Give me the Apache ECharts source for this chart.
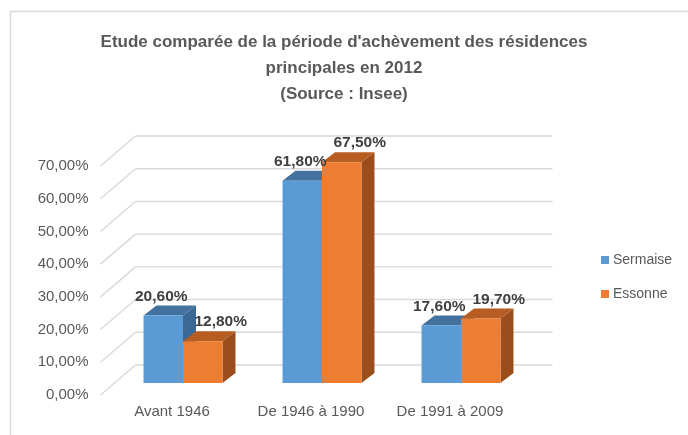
<!DOCTYPE html>
<html>
<head>
<meta charset="utf-8">
<script src="https://cdn.jsdelivr.net/npm/echarts@6/dist/echarts.min.js"></script>
<style>
  html, body { margin: 0; padding: 0; background: #fff; }
  #chart { width: 688px; height: 435px; }
</style>
</head>
<body>
<div id="chart"></div>
<script>
const categories = ["Avant 1946", "De 1946 à 1990", "De 1991 à 2009"];
const sermaise = [20.6, 61.8, 17.6];
const essonne = [12.8, 67.5, 19.7];
const yTicks = [0, 10, 20, 30, 40, 50, 60, 70];

const FONT = '"Liberation Sans", Arial, sans-serif';
const pct = (v) => v.toFixed(2).replace(".", ",") + "%";

// depth offsets relative to the plane where the bars stand
const BACK = [22, -18];
const FRONT = [-13, 12];
const BAR_DEPTH = [13, -10];

function bar3d(side, labelDx, colors) {
  return function (params, api) {
    const cat = api.value(0);
    const v = api.value(1);
    const base = api.coord([cat, 0]);
    const tip = api.coord([cat, v]);
    const w = api.size([1, 0])[0] * 0.284;
    const x0 = side < 0 ? base[0] - w : base[0];
    const x1 = x0 + w;
    const y0 = base[1], y1 = tip[1];
    const [dx, dy] = BAR_DEPTH;
    return {
      type: "group",
      children: [
        { type: "polygon", shape: { points: [[x1, y0], [x1 + dx, y0 + dy], [x1 + dx, y1 + dy], [x1, y1]] }, style: { fill: colors.side } },
        { type: "polygon", shape: { points: [[x0, y1], [x0 + dx, y1 + dy], [x1 + dx, y1 + dy], [x1, y1]] }, style: { fill: colors.top } },
        { type: "rect", shape: { x: x0, y: y1, width: w, height: y0 - y1 }, style: { fill: colors.front } },
        {
          type: "text", z2: 100,
          x: (x0 + x1) / 2 + labelDx, y: y1 - 19,
          style: { text: pct(v), align: "center", verticalAlign: "middle", font: "bold 15.5px " + FONT, fill: "#404040" }
        }
      ]
    };
  };
}

function wall(params, api) {
  const t = api.value(1);
  const cs = params.coordSys;
  const y = api.coord([0, t])[1];
  const bx = cs.x + BACK[0], by = y + BACK[1];
  const line = { stroke: "#d9d9d9", lineWidth: 1.4 };
  return {
    type: "group",
    children: [
      { type: "line", shape: { x1: bx, y1: by, x2: cs.x + cs.width + BACK[0], y2: by }, style: line },
      { type: "line", shape: { x1: bx, y1: by, x2: cs.x + FRONT[0], y2: y + FRONT[1] }, style: line }
    ]
  };
}

const chart = echarts.init(document.getElementById("chart"));
chart.setOption({
  backgroundColor: "#fff",
  animation: false,
  graphic: [{
    type: "rect", silent: true,
    shape: { x: 10.5, y: 11.5, width: 700, height: 500 },
    style: { fill: "none", stroke: "#d9d9d9", lineWidth: 1.5 }
  }],
  title: {
    text: "Etude comparée de la période d'achèvement des résidences\nprincipales en 2012\n(Source : Insee)",
    left: "center",
    top: 29,
    padding: 0,
    textStyle: { fontFamily: FONT, fontSize: 17, fontWeight: "bold", color: "#595959", lineHeight: 26 }
  },
  legend: {
    data: ["Sermaise", "Essonne"],
    orient: "vertical",
    left: 601,
    top: 253,
    padding: 0,
    icon: "rect",
    itemWidth: 8,
    itemHeight: 8,
    itemGap: 20,
    textStyle: { fontFamily: FONT, fontSize: 14, color: "#595959", padding: [0, 0, 0, -1] }
  },
  grid: [
    { left: 113.5, width: 417, top: 154, height: 229 },
    { left: 102.5, width: 417, top: 166, height: 229 }
  ],
  xAxis: [
    { gridIndex: 0, type: "category", data: categories, show: false },
    {
      gridIndex: 1, type: "category", data: categories,
      axisLine: { show: false }, axisTick: { show: false },
      axisLabel: { margin: 9, fontFamily: FONT, fontSize: 15, color: "#595959" }
    }
  ],
  yAxis: [
    { gridIndex: 0, type: "value", min: 0, max: 70, interval: 10, show: false },
    {
      gridIndex: 1, type: "value", min: 0, max: 70, interval: 10,
      axisLine: { show: false }, axisTick: { show: false }, splitLine: { show: false },
      axisLabel: { margin: 14, fontFamily: FONT, fontSize: 15, color: "#595959", formatter: pct }
    }
  ],
  series: [
    {
      type: "custom", name: "wall", z: 1, silent: true,
      xAxisIndex: 0, yAxisIndex: 0,
      renderItem: wall,
      data: yTicks.map((t) => [0, t])
    },
    {
      type: "custom", name: "Sermaise", z: 2,
      xAxisIndex: 0, yAxisIndex: 0,
      itemStyle: { color: "#5b9bd5" },
      renderItem: bar3d(-1, -2, { front: "#5b9bd5", top: "#44729f", side: "#3b6895" }),
      data: sermaise.map((v, i) => [i, v])
    },
    {
      type: "custom", name: "Essonne", z: 2,
      xAxisIndex: 0, yAxisIndex: 0,
      itemStyle: { color: "#ed7d31" },
      renderItem: bar3d(1, 18, { front: "#ed7d31", top: "#b85d22", side: "#9b4d1c" }),
      data: essonne.map((v, i) => [i, v])
    }
  ]
});
</script>
</body>
</html>
